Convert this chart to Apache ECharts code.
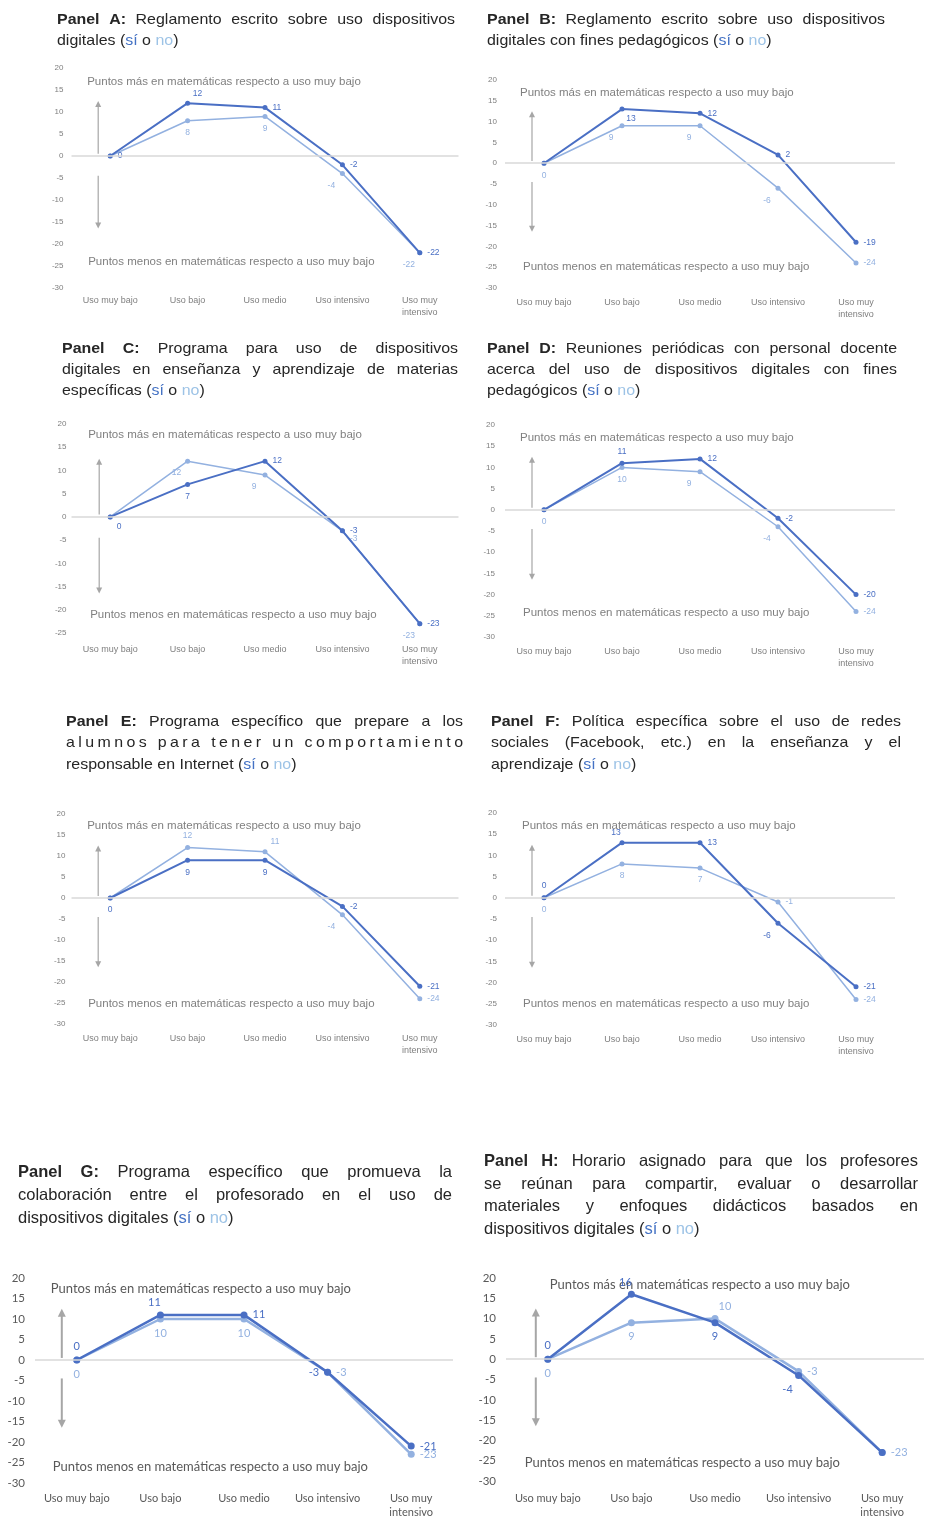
<!DOCTYPE html>
<html>
<head>
<meta charset="utf-8">
<script src="https://cdn.jsdelivr.net/npm/echarts@6.0.0/dist/echarts.min.js"></script>
<style>
  html, body { margin: 0; padding: 0; background: #ffffff; }
  #top { position: absolute; left: 0; top: 0; width: 925px; height: 1100px; filter: blur(0.5px); }
  #bottom { position: absolute; left: 0; top: 1100px; width: 925px; height: 419px; }
</style>
</head>
<body>
<div id="top"></div>
<div id="bottom"></div>
<script>
// ---- Categories (intensity of digital device use) ----
const categories = ['Uso muy bajo', 'Uso bajo', 'Uso medio', 'Uso intensivo', 'Uso muy intensivo'];

// ---- Points in mathematics relative to "uso muy bajo" (sí / no) ----
const siA = [0, 12, 11, -2, -22];
const noA = [0, 8, 9, -4, -22];
const siB = [0, 13, 12, 2, -19];
const noB = [0, 9, 9, -6, -24];
const siC = [0, 7, 12, -3, -23];
const noC = [0, 12, 9, -3, -23];
const siD = [0, 11, 12, -2, -20];
const noD = [0, 10, 9, -4, -24];
const siE = [0, 9, 9, -2, -21];
const noE = [0, 12, 11, -4, -24];
const siF = [0, 13, 13, -6, -21];
const noF = [0, 8, 7, -1, -24];
const siG = [0, 11, 11, -3, -21];
const noG = [0, 10, 10, -3, -23];
const siH = [0, 16, 9, -4, -23];
const noH = [0, 9, 10, -3, -23];

// ---- Panel titles ----
const titleA = ['Panel A: Reglamento escrito sobre uso dispositivos', 'digitales (sí o no)'];
const titleB = ['Panel B: Reglamento escrito sobre uso dispositivos', 'digitales con fines pedagógicos (sí o no)'];
const titleC = ['Panel C: Programa para uso de dispositivos', 'digitales en enseñanza y aprendizaje de materias', 'específicas (sí o no)'];
const titleD = ['Panel D: Reuniones periódicas con personal docente', 'acerca del uso de dispositivos digitales con fines', 'pedagógicos (sí o no)'];
const titleE = ['Panel E: Programa específico que prepare a los', 'alumnos para tener un comportamiento', 'responsable en Internet (sí o no)'];
const titleF = ['Panel F: Política específica sobre el uso de redes', 'sociales (Facebook, etc.) en la enseñanza y el', 'aprendizaje (sí o no)'];
const titleG = ['Panel G: Programa específico que promueva la', 'colaboración entre el profesorado en el uso de', 'dispositivos digitales (sí o no)'];
const titleH = ['Panel H: Horario asignado para que los profesores', 'se reúnan para compartir, evaluar o desarrollar', 'materiales y enfoques didácticos basados en', 'dispositivos digitales (sí o no)'];

const annUp = 'Puntos más en matemáticas respecto a uso muy bajo';
const annDown = 'Puntos menos en matemáticas respecto a uso muy bajo';

const PANELS = {
  A: { si: siA, no: noA, title: titleA },
  B: { si: siB, no: noB, title: titleB },
  C: { si: siC, no: noC, title: titleC },
  D: { si: siD, no: noD, title: titleD },
  E: { si: siE, no: noE, title: titleE },
  F: { si: siF, no: noF, title: titleF },
  G: { si: siG, no: noG, title: titleG },
  H: { si: siH, no: noH, title: titleH }
};

// ---- Colours & typography ----
const SI = '#4a6fc4';
const NO = '#93b1e0';
const SI_T = '#4472c4';
const NO_T = '#9dc3e6';
const TXT = '#262626';
const ARROW = '#a6a6a6';
const FONT = '"Liberation Sans", Arial, sans-serif';

const STYLE = {
  small: { tick: 8, cat: 9, lab: 8.5, ann: 11.5, sym: 5, lwSi: 2, lwNo: 1.5, font: FONT,
           tickColor: '#7f7f7f', annColor: '#808080', aw: 1.2, ah: 6, title: 14.5, sx: 1.1 },
  large: { tick: 11.5, cat: 11, lab: 11, ann: 13, sym: 7, lwSi: 2.5, lwNo: 2.5, font: 'Lato, "Open Sans", sans-serif',
           tickColor: '#595959', annColor: '#595959', aw: 2, ah: 8, title: 16.5, sx: 1 }
};

// ---- Panel geometry (page coordinates) ----
const LAYOUT = {
  A: { style: 'small', left: 71.5, top: 68,   width: 387, height: 220, min: -30, yMargin: 8,  xMargin: 7,  arrowDx: 12, mas: [16.8, -23], menos: [-24, -22],   title: { x: 57,  w: 398, y: [20, 41] } },
  B: { style: 'small', left: 505,  top: 80,   width: 390, height: 208, min: -30, yMargin: 8,  xMargin: 9,  arrowDx: 12, mas: [16.8, -24], menos: [-24.8, -21], title: { x: 487, w: 398, y: [20, 41] } },
  C: { style: 'small', left: 71.5, top: 424,  width: 387, height: 209, min: -25, yMargin: 5,  xMargin: 11, arrowDx: 11, mas: [17.6, -22], menos: [-21, -20],   title: { x: 62,  w: 396, y: [349, 370, 391] } },
  D: { style: 'small', left: 505,  top: 425,  width: 390, height: 212, min: -30, yMargin: 10, xMargin: 9,  arrowDx: 12, mas: [16.9, -24], menos: [-24.2, -21], title: { x: 487, w: 410, y: [349, 370, 391] } },
  E: { style: 'small', left: 71.5, top: 814,  width: 387, height: 210, min: -30, yMargin: 6,  xMargin: 9,  arrowDx: 12, mas: [17.1, -23], menos: [-25.2, -22], title: { x: 66,  w: 397, y: [722, 743, 765], dist: 1 } },
  F: { style: 'small', left: 505,  top: 813,  width: 390, height: 212, min: -30, yMargin: 8,  xMargin: 9,  arrowDx: 12, mas: [17, -22],   menos: [-24.9, -21], title: { x: 491, w: 410, y: [722, 743, 765] } },
  G: { style: 'large', left: 35,   top: 1278, width: 418, height: 208, min: -30, yMargin: 10, xMargin: 8,  arrowDx: 15, mas: [17.3, -26], menos: [-26, -24],   title: { x: 18,  w: 434, y: [1172, 1195, 1218] } },
  H: { style: 'large', left: 506,  top: 1278, width: 418, height: 206, min: -30, yMargin: 10, xMargin: 10, arrowDx: 12, mas: [18.3, 2],   menos: [-25.6, -23], title: { x: 484, w: 434, y: [1161, 1184, 1206, 1229] } }
};

// ---- Value label placement per point ----
const LABEL_POS = {
  A: { si: ['r', 'tr', 'r', 'r', 'r'],  no: ['', 'b', 'b', 'bl', 'bl'] },
  B: { si: ['', 'br', 'r', 'r', 'r'],   no: ['b', 'bl', 'bl', 'bl', 'r'] },
  C: { si: ['br', 'b', 'r', 'r', 'r'],  no: ['', 'bl', 'bl', 'rb', 'bl'] },
  D: { si: ['', 't', 'r', 'r', 'r'],    no: ['b', 'b', 'bl', 'bl', 'r'] },
  E: { si: ['b', 'b', 'b', 'r', 'r'],   no: ['', 't', 'tr', 'bl', 'r'] },
  F: { si: ['t', 'tl', 'r', 'bl', 'r'], no: ['b', 'b', 'b', 'r', 'r'] },
  G: { si: ['t', 'tl', 'r', 'l', 'r'],  no: ['b', 'b', 'b', 'r', 'r'] },
  H: { si: ['t', 'tl', 'b', 'bl', ''],  no: ['b', 'b', 'tr', 'r', 'r'] }
};
const LAB = {
  r: { position: 'right' },
  l: { position: 'left' },
  t: { position: 'top' },
  b: { position: 'bottom' },
  tr: { position: 'top', offset: [10, 2] },
  tl: { position: 'top', offset: [-6, 2] },
  br: { position: 'bottom', offset: [9, -2] },
  bl: { position: 'bottom', offset: [-11, 0] },
  rb: { position: 'right', offset: [0, 8] }
};

function lineSeries(i, values, codes, color, S, name, z, lw, withZero) {
  const s = {
    type: 'line', name: name, xAxisIndex: i, yAxisIndex: i, z: z,
    data: values.map((v, k) => ({
      value: v,
      label: codes[k] ? Object.assign({ show: true }, LAB[codes[k]]) : { show: false }
    })),
    symbol: 'circle', symbolSize: S.sym,
    lineStyle: { color: color, width: lw },
    itemStyle: { color: color },
    label: { color: color, fontSize: S.lab, fontFamily: S.font, distance: 5 },
    emphasis: { disabled: true },
    animation: false
  };
  if (withZero) {
    s.markLine = {
      silent: true, symbol: ['none', 'none'], label: { show: false },
      lineStyle: { color: '#d9d9d9', width: 1.5, type: 'solid' },
      data: [{ yAxis: 0 }], animation: false
    };
  }
  return s;
}

function buildOption(keys, yOff) {
  const grid = [], xAxis = [], yAxis = [], series = [];
  keys.forEach((k, i) => {
    const L = LAYOUT[k], S = STYLE[L.style], P = PANELS[k];
    grid.push({ left: L.left, top: L.top - yOff, width: L.width, height: L.height });
    xAxis.push({
      gridIndex: i, type: 'category', data: categories,
      axisLine: { show: false }, axisTick: { show: false },
      axisLabel: {
        interval: 0, fontSize: S.cat, fontFamily: S.font, color: S.tickColor, margin: L.xMargin,
        lineHeight: S.cat + 3,
        formatter: (s) => s === 'Uso muy intensivo' ? 'Uso muy\nintensivo' : s
      }
    });
    yAxis.push({
      gridIndex: i, type: 'value', min: L.min, max: 20, interval: 5,
      splitLine: { show: false }, axisLine: { show: false }, axisTick: { show: false },
      axisLabel: { fontSize: S.tick, fontFamily: S.font, color: S.tickColor, margin: L.yMargin }
    });
    series.push(lineSeries(i, P.no, LABEL_POS[k].no, NO, S, 'no', 2, S.lwNo, true));
    series.push(lineSeries(i, P.si, LABEL_POS[k].si, SI, S, 'sí', 3, S.lwSi, false));
  });
  return { animation: false, grid, xAxis, yAxis, series };
}

// ---- Text measurement for justified titles ----
const measCtx = document.createElement('canvas').getContext('2d');
function tw(text, size, weight) {
  measCtx.font = weight + ' ' + size + 'px ' + FONT;
  return measCtx.measureText(text).width;
}
function segments(tok, bold) {
  if (tok === '(sí') return [{ t: '(', c: TXT }, { t: 'sí', c: SI_T }];
  if (tok === 'no)') return [{ t: 'no', c: NO_T }, { t: ')', c: TXT }];
  return [{ t: tok, c: TXT, b: bold }];
}
function textEl(t, x, y, size, weight, fill, sx) {
  return {
    type: 'text', x: x, y: y, scaleX: sx, silent: true,
    style: { text: t, fontSize: size, fontFamily: FONT, fontWeight: weight, fill: fill, verticalAlign: 'middle' }
  };
}
function titleGraphics(k, yOff) {
  const L = LAYOUT[k], S = STYLE[L.style], T = L.title, out = [];
  const size = S.title, sx = S.sx;
  PANELS[k].title.forEach((line, li) => {
    const y = T.y[li] - yOff;
    const last = li === PANELS[k].title.length - 1;
    const words = line.split(' ').map((tok, wi) => segments(tok, li === 0 && wi < 2));
    if (T.dist === li) {
      // distributed: spacing spread over every character
      const chars = [];
      words.forEach((w, wi) => {
        w.forEach(g => g.t.split('').forEach(ch => chars.push({ t: ch, c: g.c, b: g.b })));
        if (wi < words.length - 1) chars.push({ t: ' ', c: TXT });
      });
      const widths = chars.map(c => tw(c.t, size, c.b ? 700 : 400) * sx);
      const total = widths.reduce((a, b) => a + b, 0);
      const gap = (T.w - total) / (chars.length - 1);
      let x = T.x;
      chars.forEach((c, ci) => {
        out.push(textEl(c.t, x, y, size, c.b ? 700 : 400, c.c, sx));
        x += widths[ci] + gap;
      });
      return;
    }
    const wWidths = words.map(w => w.reduce((s, g) => s + tw(g.t, size, g.b ? 700 : 400) * sx, 0));
    const total = wWidths.reduce((a, b) => a + b, 0);
    let gap = tw(' ', size, 400) * sx;
    if (!last && words.length > 1) gap = (T.w - total) / (words.length - 1);
    let x = T.x;
    words.forEach((w) => {
      w.forEach(g => {
        out.push(textEl(g.t, x, y, size, g.b ? 700 : 400, g.c, sx));
        x += tw(g.t, size, g.b ? 700 : 400) * sx;
      });
      x += gap;
    });
  });
  return out;
}

// ---- Arrows and direction notes, placed through each grid's scales ----
function decorations(chart, keys, yOff) {
  const g = [];
  keys.forEach((k, i) => {
    const L = LAYOUT[k], S = STYLE[L.style];
    const px = (v) => chart.convertToPixel({ gridIndex: i }, [0, v]);
    const x0 = px(0)[0];
    const ax = x0 - L.arrowDx;
    const u1 = px(12.5)[1], u2 = px(0.5)[1];
    const d1 = px(-4.5)[1], d2 = px(-16.5)[1];
    const h = S.ah, hw = S.ah / 2;
    g.push({ type: 'line', silent: true, shape: { x1: ax, y1: u1 + h - 1, x2: ax, y2: u2 }, style: { stroke: ARROW, lineWidth: S.aw } });
    g.push({ type: 'polygon', silent: true, shape: { points: [[ax, u1], [ax - hw, u1 + h], [ax + hw, u1 + h]] }, style: { fill: ARROW } });
    g.push({ type: 'line', silent: true, shape: { x1: ax, y1: d1, x2: ax, y2: d2 - h + 1 }, style: { stroke: ARROW, lineWidth: S.aw } });
    g.push({ type: 'polygon', silent: true, shape: { points: [[ax, d2], [ax - hw, d2 - h], [ax + hw, d2 - h]] }, style: { fill: ARROW } });
    g.push({ type: 'text', silent: true, x: x0 + L.mas[1], y: px(L.mas[0])[1],
      style: { text: annUp, fontSize: S.ann, fontFamily: S.font, fill: S.annColor, verticalAlign: 'middle' } });
    g.push({ type: 'text', silent: true, x: x0 + L.menos[1], y: px(L.menos[0])[1],
      style: { text: annDown, fontSize: S.ann, fontFamily: S.font, fill: S.annColor, verticalAlign: 'middle' } });
    titleGraphics(k, yOff).forEach(e => g.push(e));
  });
  chart.setOption({ graphic: g });
}

function draw(domId, keys, yOff) {
  const chart = echarts.init(document.getElementById(domId), null, { renderer: 'canvas' });
  chart.setOption(buildOption(keys, yOff));
  decorations(chart, keys, yOff);
}

draw('top', ['A', 'B', 'C', 'D', 'E', 'F'], 0);
draw('bottom', ['G', 'H'], 1100);
</script>
</body>
</html>
